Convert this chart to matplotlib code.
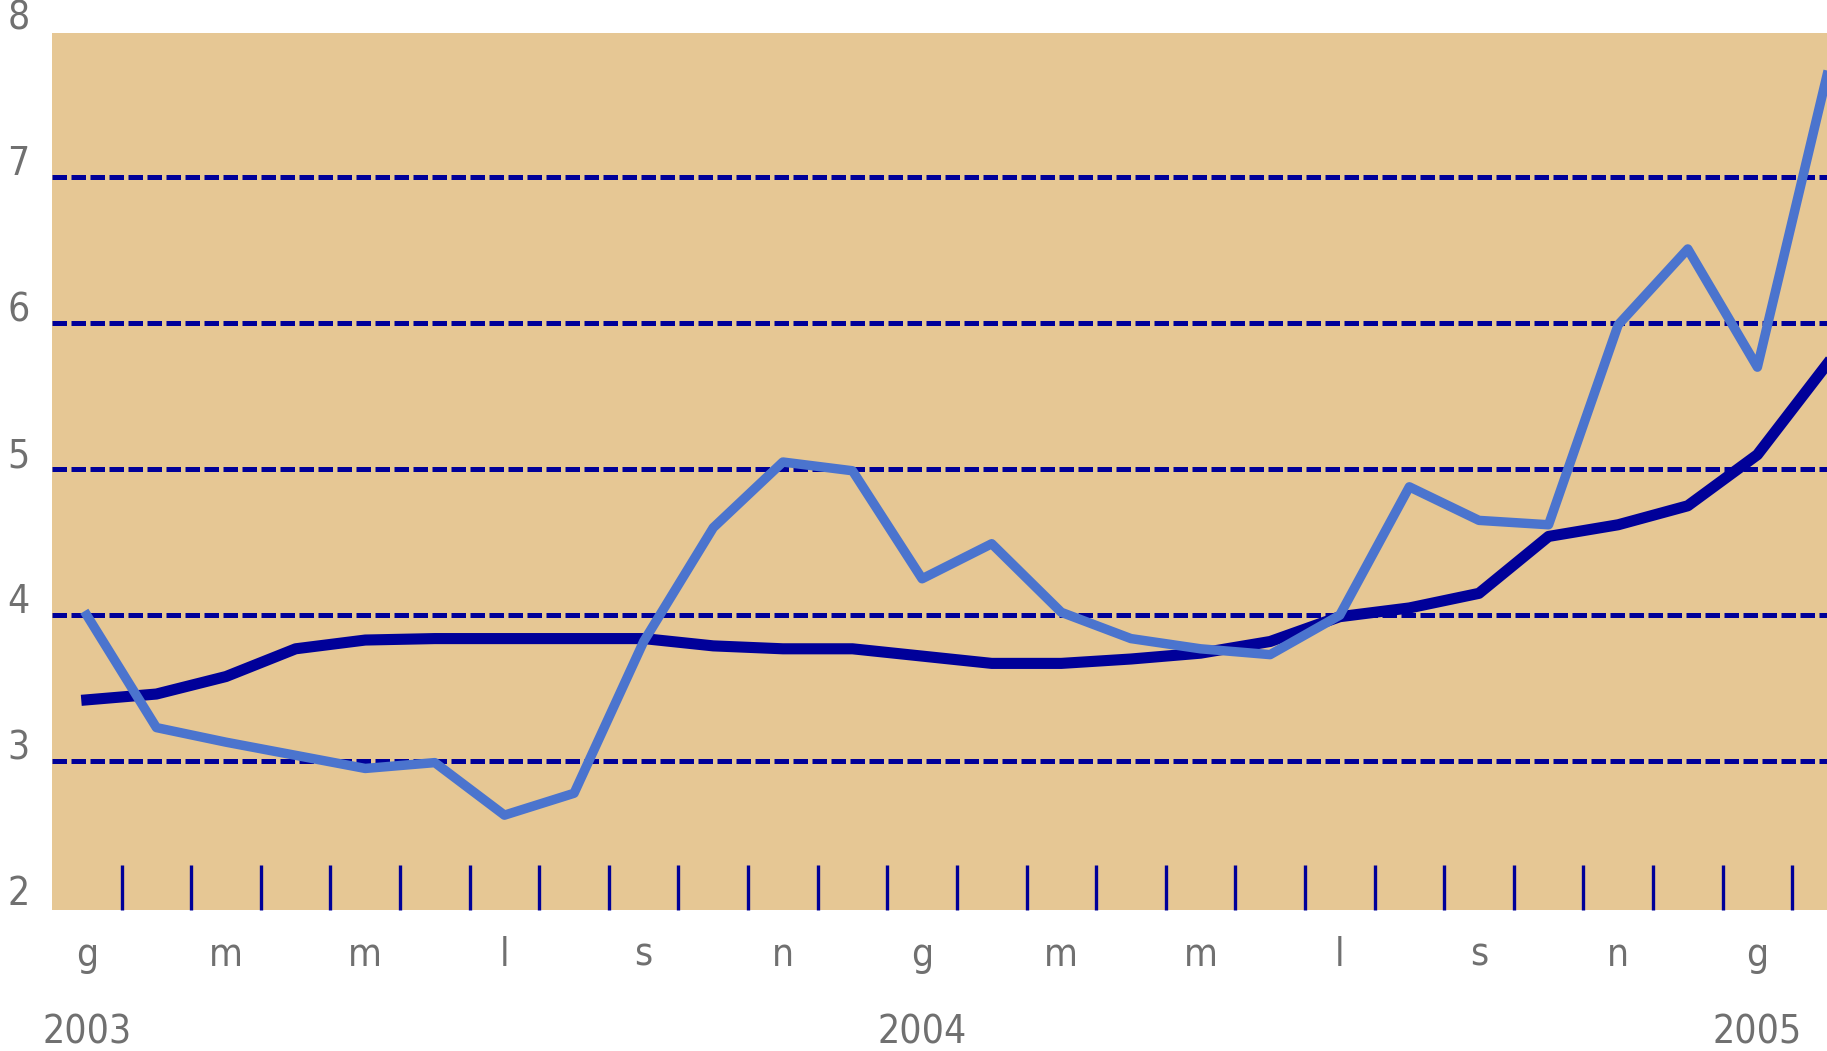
import numpy as np
import matplotlib
matplotlib.use("Agg")
import matplotlib.pyplot as plt
from matplotlib import font_manager
from matplotlib.transforms import blended_transform_factory

# monthly series, gen 2003 - feb 2005
months = ["g", "f", "m", "a", "m", "g", "l", "a", "s", "o", "n", "d"] * 2 + ["g", "f"]
years = ["2003", "2004", "2005"]
dark_line = [3.42, 3.46, 3.58, 3.77, 3.83, 3.84, 3.84, 3.84, 3.84, 3.79, 3.77, 3.77, 3.72,
             3.67, 3.67, 3.70, 3.74, 3.82, 3.99, 4.05, 4.15, 4.54, 4.62, 4.75, 5.10, 5.72]
light_line = [4.00, 3.23, 3.13, 3.04, 2.95, 2.99, 2.63, 2.78, 3.82, 4.60, 5.05, 4.99, 4.25,
              4.49, 4.02, 3.84, 3.77, 3.73, 4.00, 4.88, 4.65, 4.62, 5.99, 6.51, 5.70, 7.70]
y_labels = [2, 3, 4, 5, 6, 7, 8]

NAVY = "#000099"
LIGHT = "#4B74CE"
BG = "#E6C794"
TXT = "#707070"

# the original uses a narrow face; take the narrowest one that is installed
fonts = font_manager.fontManager.ttflist
names = {f.name for f in fonts}
stretch = "normal"
if "Liberation Sans Narrow" in names:
    FONT = ["Liberation Sans Narrow", "DejaVu Sans"]
    fsize = 30
elif any(f.name == "DejaVu Sans" and f.stretch == "condensed" for f in fonts):
    FONT = ["DejaVu Sans"]
    stretch = "condensed"
    fsize = 28
else:
    FONT = ["Liberation Sans", "DejaVu Sans"]
    fsize = 28

W, H = 1827, 1051
fig = plt.figure(figsize=(W / 100, H / 100), dpi=100)
ax = fig.add_axes([52 / W, 1 - 910 / H, 1 - 52 / W, (910 - 33) / H])
ax.set_facecolor(BG)
for s in ax.spines.values():
    s.set_visible(False)

x = np.arange(len(dark_line))
ax.set_xlim(-0.5, len(x) - 1)
ax.set_ylim(1.98, 7.99)

for v in y_labels[1:-1]:
    ax.axhline(v, color=NAVY, lw=3.6, ls=(0, (2.9, 0.9)), zorder=1)

ax.plot(x, dark_line, color=NAVY, lw=8.0, zorder=3)
ax.plot(x, light_line, color=LIGHT, lw=6.8, zorder=4)

# month separators drawn as inward ticks
ax.set_xticks(np.arange(0.5, len(x) - 1, 1))
ax.set_yticks([])
ax.tick_params(axis="x", direction="in", length=32.4, width=2.4, color=NAVY,
               labelbottom=False, bottom=True)

txt_kw = dict(fontsize=fsize, color=TXT, family=FONT, fontstretch=stretch)
tr = blended_transform_factory(ax.transData, fig.transFigure)
for i in range(0, len(x), 2):
    ax.text(i, 1 - 966 / H, months[i], transform=tr, ha="center", va="baseline", **txt_kw)
for i, yr in zip([0, 12, 24], years):
    ax.text(i, 1 - 1043 / H, yr, transform=tr, ha="center", va="baseline", **txt_kw)

tr_y = blended_transform_factory(fig.transFigure, ax.transData)
for v in y_labels:
    ax.text(18.5 / W, v + 0.09, str(v), transform=tr_y, ha="center", va="center",
            clip_on=False, **txt_kw)

fig.savefig("out.png", dpi=100)
